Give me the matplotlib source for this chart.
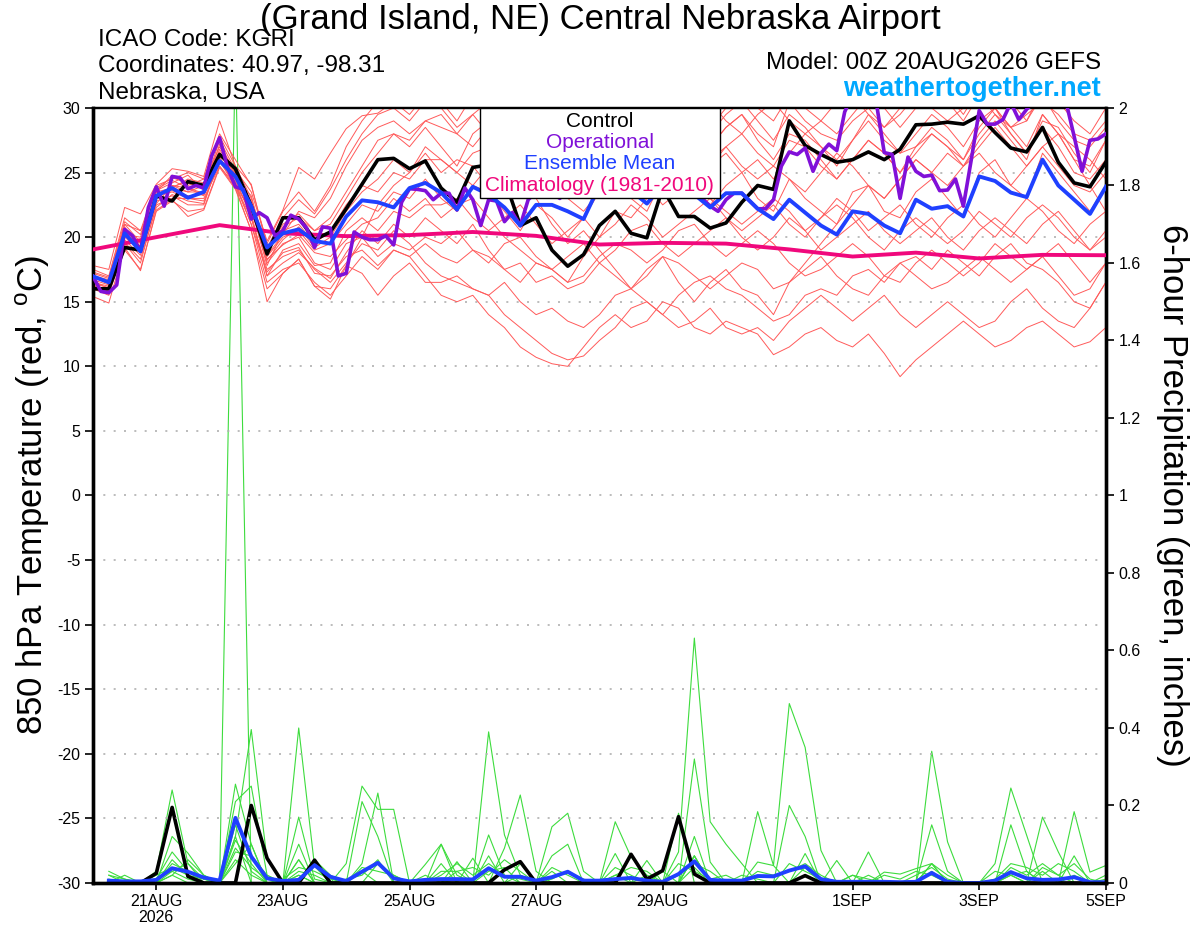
import pandas as pd
import matplotlib
matplotlib.use("Agg")
import matplotlib.pyplot as plt
from matplotlib.patches import Rectangle


# STEP 1: DATA
start = "2026-08-20 00:00"
times_6h = pd.date_range(start, periods=65, freq="6h")
times_3h = pd.date_range(start, periods=129, freq="3h")
times_day = pd.date_range(start, periods=17, freq="D")

tick_dates = pd.to_datetime(["2026-08-21", "2026-08-23", "2026-08-25", "2026-08-27",
                             "2026-08-29", "2026-09-01", "2026-09-03", "2026-09-05"])
tick_labels = ["21AUG\n2026", "23AUG", "25AUG", "27AUG", "29AUG", "1SEP", "3SEP", "5SEP"]

temp_ticks = [30, 25, 20, 15, 10, 5, 0, -5, -10, -15, -20, -25, -30]
precip_ticks = [0, 0.2, 0.4, 0.6, 0.8, 1, 1.2, 1.4, 1.6, 1.8, 2]
precip_tick_labels = ["0", "0.2", "0.4", "0.6", "0.8", "1", "1.2", "1.4", "1.6", "1.8", "2"]

# 850 hPa temperature, control run (6-hourly)
control_t = [16.0, 16.0, 19.2, 19.0, 23.2, 22.8, 24.3, 24.0, 26.4, 25.3, 22.4,
             18.7, 21.5, 21.5, 19.8, 20.4, 22.2, 24.1, 26.0, 26.1, 25.3, 25.9,
             23.8, 22.7, 25.4, 25.6, 24.5, 20.9, 21.5, 19.0, 17.75, 18.65, 20.9,
             22.0, 20.3, 19.95, 23.8, 21.6, 21.6, 20.7, 21.1, 22.7, 24.0,
             23.7, 29.0, 27.1, 26.4, 25.8, 26.0, 26.6, 26.0, 26.8, 28.7, 28.75,
             28.9, 28.75, 29.4, 28.1, 26.9, 26.6, 28.5, 25.8, 24.2, 23.9, 25.8]

# operational run (3-hourly)
oper_t = [16.97, 15.8, 15.7, 16.3, 20.6, 20.1, 18.9, 22.3, 23.9, 22.4, 24.7,
          24.6, 23.75, 24.0, 23.8, 26.3, 27.7, 25.4, 23.9, 23.7, 21.4, 21.9,
          21.5, 20.1, 20.5, 21.7, 21.4, 20.7, 19.2, 20.8, 20.7, 17.0, 17.2,
          20.4, 20.0, 19.8, 19.8, 20.1, 19.4, 22.7, 23.75, 23.7, 23.6,
          22.9, 23.4, 23.4, 22.1, 23.8, 22.9, 20.9, 22.9, 22.8, 21.2, 21.9,
          20.9, 22.9, 23.5, 23.3, 23.4, 23.0, 23.8, 24.0, 23.6, 24.2, 24.5,
          24.0, 23.8, 24.3, 24.0, 23.6, 23.9, 24.1, 23.5, 23.9, 23.4, 23.6,
          23.4, 23.0, 22.4, 22.0, 22.9, 23.4, 23.4, 22.8, 22.2,
          22.2, 22.9, 25.5, 26.6, 26.4, 26.9, 25.1, 26.5, 27.2, 26.7, 29.7,
          31.0, 31.5, 31.0, 30.4, 26.55, 26.4, 23.0, 26.2, 25.1, 24.7, 24.8,
          23.6, 23.65, 24.5, 22.4, 26.0, 29.8, 28.75, 28.75, 29.1, 30.4, 29.1,
          29.9, 30.5, 31.0, 31.0, 30.8, 30.4, 27.8, 25.1, 27.5, 27.6, 28.0]

# ensemble mean
mean_t = [16.97, 16.5, 20.3, 18.9, 23.2, 23.8, 23.05, 23.5, 25.9, 24.7, 22.4,
          19.2, 20.3, 20.6, 19.7, 19.5, 21.6, 22.85, 22.7, 22.3, 23.8, 24.2,
          23.45, 22.15, 23.9, 23.3, 22.3, 20.9, 22.5, 22.5, 22.0, 21.4, 24.0,
          24.5, 23.6, 22.6, 24.0, 23.8, 23.3, 22.3, 23.4, 23.4, 22.2,
          21.4, 22.9, 21.9, 20.9, 20.2, 22.0, 21.8, 20.9, 20.3, 22.9, 22.2,
          22.4, 21.6, 24.7, 24.35, 23.45, 23.1, 26.0, 24.0, 22.9, 21.8, 23.9]

# 1981-2010 climatology (daily, 00Z)
clim_t = [19.05, 20.0, 20.93, 20.3, 20.08, 20.16, 20.4, 20.1, 19.43,
          19.56, 19.5, 19.05, 18.5, 18.8, 18.35, 18.63, 18.6]

# ensemble members, temperature
mem01 = [16.5, 16.2, 20.5, 19.5, 23.5, 23.8, 24.5, 24.2, 27.0, 25.0, 22.8,
         19.0, 21.0, 21.8, 20.5, 21.5, 23.5, 25.5, 27.5, 28.0, 27.0, 28.5,
         27.0, 25.5, 28.0, 29.0, 27.5, 25.0, 26.0, 24.0, 23.0, 24.5, 26.0,
         27.0, 25.5, 25.0, 27.5, 28.0, 26.5, 27.0, 28.5, 29.5, 28.0,
         27.0, 30.5, 29.0, 28.0, 27.5, 29.0, 30.0, 28.5, 29.5, 31.0, 30.5,
         31.0, 29.5, 31.5, 30.0, 28.5, 29.0, 31.0, 29.0, 27.5, 27.0, 28.5]
mem02 = [16.0, 15.5, 19.5, 18.0, 22.5, 23.0, 23.0, 22.8, 25.8, 24.5, 21.5,
         17.5, 18.5, 19.0, 17.5, 16.5, 18.0, 19.5, 19.0, 20.5, 19.5, 18.0,
         17.0, 16.5, 16.0, 15.5, 14.0, 13.0, 12.0, 11.0, 10.5, 10.8, 12.0,
         13.0, 14.5, 15.0, 14.0, 15.5, 16.5, 17.0, 16.0, 15.5, 14.5,
         13.5, 14.0, 15.5, 16.0, 15.5, 17.0, 17.5, 16.5, 18.0, 18.5, 17.5,
         19.0, 18.0, 17.0, 18.5, 19.5, 18.0, 17.5, 16.5, 15.0, 14.5, 16.5]
mem03 = [17.0, 16.5, 20.0, 19.0, 23.0, 24.0, 23.5, 23.5, 26.0, 24.0, 21.0,
         16.5, 17.5, 18.0, 16.5, 15.5, 17.0, 18.5, 17.5, 19.0, 18.5, 17.0,
         15.5, 15.0, 15.5, 14.0, 13.0, 11.5, 10.7, 10.2, 10.0, 11.5, 13.0,
         14.0, 13.0, 13.5, 15.0, 14.5, 13.0, 12.5, 13.5, 13.0, 12.5,
         10.9, 11.5, 12.5, 13.0, 12.0, 11.5, 12.5, 11.0, 9.2, 10.5, 11.5,
         12.5, 13.5, 12.5, 11.5, 12.0, 13.0, 13.5, 12.5, 11.5, 11.9, 13.0]
mem04 = [16.8, 16.5, 21.0, 20.5, 24.0, 24.5, 25.0, 24.5, 28.0, 26.0, 24.0,
         19.5, 22.0, 23.5, 22.0, 24.0, 27.0, 29.0, 30.5, 31.0, 30.0, 31.5,
         30.5, 29.0, 31.0, 32.0, 30.5, 28.5, 29.0, 27.5, 26.5, 28.0, 29.5,
         30.0, 28.5, 27.5, 29.0, 30.5, 29.0, 28.0, 29.5, 30.5, 29.0,
         27.5, 29.5, 28.5, 27.0, 26.0, 27.5, 29.0, 27.5, 26.5, 28.0, 29.5,
         28.5, 27.0, 29.0, 30.0, 28.0, 26.5, 28.5, 27.0, 25.0, 24.5, 26.0]
mem05 = [17.2, 16.8, 20.8, 19.0, 23.2, 23.5, 23.0, 23.0, 25.5, 24.0, 22.0,
         18.5, 20.0, 20.5, 19.0, 19.5, 21.0, 22.5, 22.0, 23.5, 23.0, 24.5,
         23.0, 22.0, 24.0, 23.5, 22.0, 20.5, 22.5, 21.5, 20.0, 21.5, 23.5,
         24.5, 23.0, 22.0, 24.5, 25.0, 23.5, 22.5, 24.0, 25.0, 23.0,
         22.0, 24.5, 23.0, 22.0, 21.0, 23.5, 24.0, 22.0, 21.5, 23.5, 24.5,
         23.0, 21.5, 25.0, 26.0, 24.0, 23.0, 26.5, 25.0, 23.5, 22.0, 24.0]
mem06 = [16.3, 15.8, 19.0, 17.5, 22.0, 22.8, 22.0, 22.2, 25.5, 23.8, 20.5,
         15.0, 17.2, 18.3, 16.2, 15.2, 17.8, 20.0, 22.5, 24.0, 25.0, 26.5,
         25.0, 26.0, 25.5, 24.0, 23.0, 24.5, 25.5, 24.0, 23.0, 22.0, 23.5,
         24.5, 25.5, 24.0, 22.5, 23.5, 24.5, 23.0, 22.0, 21.0, 22.0,
         23.0, 22.0, 20.5, 21.5, 22.5, 21.5, 20.0, 19.0, 20.5, 21.5, 20.5,
         19.5, 20.5, 22.0, 21.0, 20.0, 21.5, 22.5, 21.5, 20.0, 19.0, 20.5]
mem07 = [16.9, 16.4, 20.2, 20.0, 23.8, 24.6, 24.2, 23.8, 27.5, 25.2, 23.5,
         19.7, 22.1, 25.4, 24.5, 26.5, 28.4, 29.4, 29.6, 30.5, 29.5, 31.0,
         31.5, 30.0, 30.5, 31.5, 29.5, 27.0, 28.5, 26.5, 25.0, 26.5, 28.0,
         29.0, 27.0, 26.0, 28.0, 29.5, 28.0, 27.0, 28.5, 29.5, 27.5,
         26.0, 28.0, 27.5, 26.0, 24.5, 26.0, 27.5, 26.5, 25.0, 26.5, 28.0,
         27.0, 25.5, 27.5, 29.0, 27.5, 26.0, 29.5, 28.0, 26.0, 25.5, 27.5]
mem08 = [17.5, 17.0, 21.5, 20.5, 23.0, 23.8, 23.5, 24.0, 26.5, 24.5, 22.5,
         18.0, 19.5, 20.0, 18.0, 17.5, 19.5, 20.0, 18.5, 19.5, 19.0, 20.0,
         19.5, 20.5, 19.0, 18.0, 19.5, 20.0, 18.5, 17.5, 18.5, 19.5, 18.0,
         19.0, 20.5, 21.0, 19.5, 18.5, 19.5, 20.5, 21.5, 20.0, 19.0,
         20.0, 21.5, 20.5, 19.0, 20.0, 21.0, 22.0, 20.5, 19.5, 20.5, 21.5,
         20.0, 19.0, 20.5, 21.5, 20.5, 19.5, 21.0, 22.0, 20.5, 19.0, 20.0]
mem09 = [16.0, 15.6, 20.6, 18.8, 23.5, 24.8, 24.0, 24.5, 27.8, 25.5, 23.0,
         18.8, 20.8, 21.5, 20.5, 21.0, 23.0, 25.0, 26.5, 28.0, 27.5, 29.0,
         29.5, 28.0, 27.0, 28.5, 30.0, 29.0, 27.5, 26.5, 27.5, 28.5, 27.0,
         28.0, 29.5, 28.5, 27.0, 28.0, 29.5, 30.5, 29.0, 28.0, 29.5,
         30.5, 29.0, 28.0, 29.0, 30.5, 31.0, 29.5, 28.5, 30.0, 31.5, 30.0,
         29.0, 30.0, 31.0, 29.5, 28.5, 29.5, 30.5, 29.5, 28.0, 27.5, 29.0]
mem10 = [16.6, 16.0, 20.0, 19.8, 22.8, 23.2, 22.5, 22.5, 26.2, 24.3, 21.8,
         17.0, 19.0, 19.5, 17.8, 18.0, 20.5, 21.5, 20.5, 22.0, 21.5, 22.5,
         22.5, 23.0, 21.5, 20.5, 21.5, 22.5, 21.0, 19.5, 20.5, 21.5, 20.0,
         21.0, 22.5, 21.5, 20.0, 21.0, 22.0, 23.0, 21.5, 20.5, 21.5,
         22.5, 21.0, 20.0, 21.5, 23.0, 22.0, 20.5, 21.5, 22.5, 21.0, 20.0,
         21.5, 22.5, 21.0, 20.0, 21.5, 23.0, 22.0, 20.5, 19.5, 21.0, 22.0]
mem11 = [17.8, 17.5, 22.3, 21.8, 24.1, 25.3, 25.1, 24.7, 29.0, 25.5, 24.1,
         19.2, 21.5, 22.9, 21.8, 23.7, 26.0, 28.0, 29.5, 30.0, 29.0, 30.5,
         30.0, 28.5, 29.5, 30.5, 29.0, 27.0, 28.0, 27.0, 26.0, 27.5, 29.5,
         30.5, 29.5, 28.0, 29.5, 31.0, 30.0, 28.5, 30.0, 31.5, 30.0,
         29.0, 31.0, 30.0, 29.0, 28.0, 29.5, 31.0, 30.0, 28.5, 30.0, 31.5,
         30.5, 29.0, 31.0, 32.0, 30.5, 29.0, 31.5, 30.5, 29.0, 28.0, 30.0]
mem12 = [15.4, 14.9, 19.2, 17.4, 22.1, 22.9, 21.6, 22.1, 25.4, 23.7, 20.5,
         16.0, 17.2, 18.3, 16.2, 16.0, 17.8, 17.2, 15.5, 17.0, 18.0, 16.5,
         16.5, 17.0, 16.0, 15.5, 16.5, 15.0, 14.0, 14.5, 13.5, 13.0, 14.0,
         15.5, 16.0, 15.0, 14.0, 13.0, 13.5, 14.5, 13.0, 12.5, 13.0,
         12.0, 13.5, 14.5, 15.5, 14.5, 13.5, 14.5, 15.5, 14.0, 13.0, 14.0,
         15.0, 14.0, 13.0, 13.5, 15.0, 16.0, 14.5, 13.5, 13.0, 14.5, 16.5]
mem13 = [16.4, 16.1, 20.4, 19.3, 23.6, 24.2, 24.8, 23.6, 26.8, 24.8, 22.2,
         17.8, 20.5, 21.0, 19.5, 20.5, 22.5, 24.0, 23.5, 25.0, 24.5, 26.0,
         26.0, 25.0, 24.0, 25.5, 26.5, 25.0, 23.5, 24.5, 25.5, 24.0, 23.0,
         24.0, 25.5, 26.5, 25.0, 24.0, 25.0, 26.0, 27.0, 25.5, 24.5,
         25.5, 24.5, 23.5, 25.0, 26.5, 25.5, 24.0, 23.0, 24.5, 26.0, 25.0,
         24.0, 25.5, 26.5, 25.0, 24.0, 25.5, 27.0, 25.5, 24.0, 23.5, 25.0]
mem14 = [17.0, 16.7, 21.0, 19.6, 23.3, 23.6, 23.2, 23.3, 26.0, 24.2, 21.0,
         17.3, 18.8, 19.2, 17.2, 17.0, 18.5, 19.0, 17.8, 19.0, 18.5, 19.5,
         18.5, 18.0, 19.0, 18.5, 17.5, 18.0, 16.5, 17.0, 16.0, 16.5, 18.0,
         17.0, 16.0, 17.5, 18.5, 18.0, 17.0, 16.0, 17.0, 18.0, 17.5,
         16.0, 16.5, 17.5, 18.5, 17.0, 16.0, 15.5, 17.0, 18.0, 17.0, 16.0,
         16.5, 17.5, 18.5, 17.5, 16.5, 17.5, 18.5, 17.0, 15.5, 16.0, 18.0]
mem15 = [16.2, 16.0, 19.8, 18.6, 22.6, 24.0, 23.8, 23.4, 27.2, 25.0, 22.6,
         18.2, 19.8, 20.8, 19.2, 20.0, 22.0, 23.5, 24.5, 26.0, 25.0, 27.0,
         26.0, 25.0, 26.5, 27.0, 25.5, 24.0, 25.0, 24.0, 23.0, 24.5, 26.5,
         27.5, 26.0, 25.0, 26.5, 28.0, 26.5, 25.5, 27.0, 28.0, 26.5,
         25.5, 27.5, 27.0, 25.5, 24.5, 26.0, 27.5, 26.5, 25.0, 27.0, 28.0,
         27.0, 26.0, 28.0, 29.5, 28.0, 26.5, 29.0, 28.5, 26.5, 25.0, 27.5]
mem16 = [16.7, 16.3, 20.3, 19.2, 23.1, 23.9, 24.3, 24.0, 26.6, 24.6, 23.2,
         18.6, 20.2, 22.0, 21.5, 23.0, 25.5, 27.5, 28.5, 29.0, 28.0, 29.0,
         28.5, 28.0, 29.5, 28.0, 26.0, 24.5, 23.0, 21.0, 19.5, 20.5, 19.0,
         17.5, 16.0, 17.0, 18.5, 16.5, 15.0, 16.5, 17.5, 16.0, 15.5,
         14.0, 16.5, 18.0, 19.5, 21.0, 22.5, 24.0, 23.0, 24.5, 26.0, 25.0,
         26.5, 25.5, 27.0, 28.5, 27.0, 25.5, 27.0, 28.0, 27.0, 26.0, 24.5]
mem17 = [17.3, 16.9, 21.2, 20.2, 23.7, 24.4, 23.8, 23.2, 25.9, 23.9, 21.5,
         17.0, 18.0, 18.8, 17.6, 16.8, 18.8, 20.5, 19.5, 21.0, 20.0, 21.5,
         20.5, 19.5, 21.0, 19.0, 17.5, 16.5, 18.0, 17.5, 16.5, 18.5, 20.0,
         22.0, 21.5, 23.0, 25.0, 24.0, 23.5, 25.5, 26.5, 25.0, 26.0,
         24.5, 26.5, 28.0, 27.0, 25.5, 27.5, 29.5, 28.0, 26.5, 27.0, 28.5,
         27.5, 26.0, 28.5, 30.0, 28.5, 27.0, 29.5, 28.0, 26.0, 24.0, 22.0]
mem18 = [16.1, 15.7, 19.6, 18.3, 22.3, 23.3, 22.8, 22.6, 26.4, 24.9, 22.4,
         18.3, 19.4, 20.2, 18.8, 18.5, 19.8, 21.0, 21.5, 23.0, 22.0, 23.0,
         21.5, 22.5, 23.0, 21.5, 20.0, 19.0, 18.0, 17.5, 16.5, 17.0, 18.5,
         19.5, 19.0, 18.0, 19.0, 20.5, 21.0, 19.5, 18.5, 19.5, 20.5,
         19.5, 18.0, 17.0, 17.5, 18.5, 19.5, 18.5, 17.0, 16.5, 18.0, 19.0,
         18.0, 17.0, 18.0, 19.5, 18.5, 17.5, 18.5, 19.5, 18.0, 16.5, 18.0]
temp_members = [mem01, mem02, mem03, mem04, mem05, mem06, mem07, mem08, mem09,
                mem10, mem11, mem12, mem13, mem14, mem15, mem16, mem17, mem18]

# 6-hour precipitation (inches), valid 06Z 20AUG .. 00Z 5SEP
control_p = [0, 0, 0, 0.025, 0.195, 0.017, 0, 0,
             0, 0.2, 0.064, 0, 0, 0.059, 0, 0,
             0, 0, 0, 0, 0, 0, 0, 0,
             0, 0.034, 0.055, 0, 0, 0, 0, 0,
             0, 0.074, 0.01, 0.032, 0.171, 0.023, 0, 0,
             0, 0, 0, 0, 0.019, 0, 0, 0,
             0, 0, 0, 0, 0, 0, 0, 0,
             0, 0, 0, 0, 0, 0, 0, 0]
mean_p = [0.006, 0.004, 0.004, 0.008, 0.038, 0.029, 0.014, 0.006,
          0.168, 0.068, 0.012, 0.005, 0.008, 0.046, 0.016, 0.005,
          0.029, 0.052, 0.012, 0.004, 0.008, 0.01, 0.01, 0.009,
          0.038, 0.016, 0.016, 0.006, 0.015, 0.029, 0.006, 0.006,
          0.01, 0.013, 0.006, 0.003, 0.023, 0.056, 0.008, 0.006,
          0.006, 0.018, 0.017, 0.032, 0.043, 0.01, 0.003, 0.003,
          0.003, 0.003, 0.002, 0.003, 0.026, 0.003, 0, 0,
          0.006, 0.028, 0.012, 0.008, 0.009, 0.015, 0.002, 0.002]

pmem01 = [0, 0, 0, 0.01, 0.03, 0.01, 0, 0,
          2.15, 0, 0, 0, 0.02, 0, 0, 0,
          0, 0.05, 0.02, 0, 0, 0, 0.01, 0,
          0, 0, 0, 0, 0.03, 0, 0, 0,
          0, 0, 0.02, 0, 0.08, 0.632, 0.158, 0.1,
          0.05, 0, 0, 0, 0, 0, 0, 0,
          0, 0, 0, 0, 0, 0, 0, 0,
          0, 0, 0, 0, 0, 0.02, 0, 0]
pmem02 = [0.02, 0, 0, 0.03, 0.24, 0.05, 0.01, 0,
          0.12, 0.396, 0.06, 0, 0, 0.06, 0.02, 0,
          0, 0, 0, 0, 0.048, 0.1, 0.02, 0,
          0.39, 0.124, 0.02, 0, 0, 0, 0, 0,
          0, 0, 0, 0, 0, 0.07, 0, 0,
          0, 0.184, 0.045, 0.463, 0.35, 0.084, 0, 0,
          0, 0, 0, 0, 0.05, 0.02, 0, 0,
          0, 0.02, 0.03, 0, 0, 0, 0, 0]
pmem03 = [0, 0, 0, 0, 0.12, 0.077, 0.02, 0,
          0.255, 0.1, 0, 0, 0.4, 0.043, 0, 0,
          0, 0, 0, 0, 0, 0, 0.055, 0,
          0.124, 0.02, 0, 0, 0, 0, 0, 0,
          0, 0, 0, 0, 0, 0.32, 0.054, 0,
          0, 0, 0, 0, 0, 0, 0, 0,
          0, 0, 0, 0, 0.34, 0.106, 0, 0,
          0, 0.02, 0, 0, 0, 0, 0, 0]
pmem04 = [0, 0, 0, 0.01, 0.08, 0.03, 0, 0,
          0.21, 0.25, 0.02, 0, 0.17, 0.01, 0, 0.05,
          0.25, 0.19, 0.19, 0, 0, 0, 0, 0,
          0, 0, 0.05, 0, 0, 0, 0, 0,
          0.158, 0.067, 0.02, 0, 0, 0.12, 0, 0,
          0, 0, 0, 0, 0, 0, 0, 0,
          0, 0, 0, 0, 0.15, 0.03, 0, 0,
          0.05, 0.245, 0.123, 0, 0, 0, 0, 0]
pmem05 = [0, 0, 0, 0, 0.06, 0.02, 0, 0,
          0.17, 0.07, 0, 0, 0.1, 0, 0, 0,
          0.21, 0.12, 0, 0, 0, 0, 0, 0.064,
          0, 0.09, 0.227, 0.03, 0, 0, 0, 0,
          0, 0, 0, 0, 0, 0.07, 0, 0,
          0, 0, 0, 0.2, 0.12, 0, 0, 0,
          0, 0, 0, 0, 0, 0, 0, 0,
          0, 0, 0, 0.17, 0.08, 0, 0, 0]
pmem06 = [0.01, 0, 0, 0, 0, 0, 0, 0,
          0.12, 0, 0, 0, 0.06, 0, 0, 0,
          0.05, 0.232, 0, 0, 0, 0.1, 0, 0,
          0.07, 0, 0, 0, 0.145, 0.18, 0.03, 0,
          0.076, 0, 0, 0, 0.18, 0, 0, 0,
          0, 0.054, 0.045, 0, 0.076, 0, 0.058, 0,
          0.08, 0, 0, 0, 0, 0, 0, 0,
          0, 0, 0, 0, 0, 0.184, 0.028, 0.045]
pmem07 = [0, 0, 0, 0, 0, 0, 0, 0,
          0.05, 0.1, 0, 0, 0, 0, 0, 0,
          0, 0, 0, 0, 0, 0, 0, 0,
          0, 0, 0, 0, 0.07, 0.1, 0, 0,
          0, 0, 0.058, 0, 0, 0.07, 0, 0,
          0, 0, 0, 0, 0, 0, 0, 0,
          0, 0.028, 0.023, 0.037, 0.05, 0, 0, 0,
          0, 0.15, 0.03, 0, 0, 0.07, 0, 0]
pmem08 = [0, 0, 0, 0, 0.03, 0.05, 0, 0,
          0.08, 0.07, 0.02, 0, 0.06, 0, 0, 0,
          0, 0, 0, 0, 0, 0, 0, 0,
          0, 0, 0.02, 0, 0, 0, 0, 0,
          0, 0, 0, 0.03, 0, 0, 0, 0,
          0, 0, 0, 0, 0, 0, 0, 0,
          0, 0, 0, 0, 0.05, 0, 0, 0,
          0, 0, 0, 0, 0, 0, 0, 0]
pmem09 = [0.02, 0.01, 0, 0, 0.05, 0.03, 0.01, 0,
          0.15, 0.03, 0, 0, 0.02, 0, 0, 0,
          0.03, 0, 0, 0, 0, 0.03, 0.03, 0,
          0.03, 0.04, 0, 0, 0, 0, 0, 0,
          0.02, 0, 0, 0, 0, 0.04, 0, 0,
          0, 0, 0, 0, 0.04, 0, 0, 0.02,
          0, 0, 0, 0, 0, 0, 0, 0,
          0, 0.04, 0.02, 0.05, 0.02, 0, 0, 0.02]
pmem10 = [0, 0, 0, 0, 0.02, 0, 0, 0,
          0.06, 0.02, 0, 0, 0, 0, 0, 0,
          0, 0, 0, 0, 0, 0.05, 0, 0,
          0, 0, 0, 0, 0, 0, 0, 0,
          0, 0, 0, 0, 0, 0, 0, 0,
          0, 0, 0, 0, 0, 0, 0, 0,
          0.02, 0, 0, 0, 0.03, 0, 0, 0,
          0, 0, 0, 0.03, 0, 0, 0, 0]
pmem11 = [0.03, 0.01, 0, 0, 0.02, 0.06, 0.02, 0,
          0.09, 0.04, 0.01, 0, 0.03, 0.02, 0, 0.01,
          0.02, 0.06, 0, 0, 0, 0.02, 0.05, 0.02,
          0.05, 0.02, 0.01, 0, 0.04, 0.02, 0, 0,
          0.04, 0.02, 0, 0, 0.02, 0.05, 0.03, 0,
          0.02, 0.01, 0, 0.05, 0.03, 0.01, 0, 0.02,
          0.01, 0, 0, 0.02, 0.04, 0.01, 0, 0,
          0.01, 0.05, 0.04, 0.02, 0.05, 0.03, 0, 0.01]
pmem12 = [0, 0.02, 0, 0.02, 0.04, 0.02, 0.01, 0,
          0.11, 0.05, 0, 0.01, 0.04, 0.03, 0.01, 0,
          0.04, 0.03, 0.02, 0, 0.02, 0, 0.03, 0.04,
          0.02, 0.06, 0.03, 0, 0.01, 0.03, 0.01, 0,
          0.02, 0.04, 0.03, 0, 0.05, 0.03, 0.01, 0.02,
          0, 0.03, 0.02, 0.03, 0.05, 0.02, 0, 0,
          0, 0.02, 0.01, 0.03, 0.02, 0, 0, 0,
          0.03, 0.02, 0, 0.04, 0.02, 0.05, 0.01, 0]
precip_members = [pmem01, pmem02, pmem03, pmem04, pmem05, pmem06,
                  pmem07, pmem08, pmem09, pmem10, pmem11, pmem12]


# STEP 2: FONTS
plt.rcParams["font.family"] = ["Liberation Sans", "DejaVu Sans"]


# STEP 3: FIGURE AND AXES
fig = plt.figure(figsize=(12, 9.27), dpi=100)
ax = fig.add_axes([0.0775, 0.0475, 0.844, 0.836])
ax2 = ax.twinx()
ax.set_zorder(ax2.get_zorder() + 1)
ax.patch.set_visible(False)

red = "#ff5a5a"
green = "#3ddc3d"
black = "black"
purple = "#8010d8"
blue = "#1f40ff"
pink = "#f0087c"

# precipitation (right axis, drawn underneath)
p_times = times_6h[1:]
for pm in precip_members:
    ax2.plot(p_times, pm, color=green, lw=0.8)
ax2.plot(p_times, control_p, color=black, lw=2.6)
ax2.plot(p_times, mean_p, color=blue, lw=2.8)

# temperature (left axis)
for tm in temp_members:
    ax.plot(times_6h, tm, color=red, lw=0.7)
ax.plot(times_day, clim_t, color=pink, lw=2.8, zorder=4)
ax.plot(times_6h, control_t, color=black, lw=2.6, zorder=5)
ax.plot(times_3h, oper_t, color=purple, lw=2.6, zorder=6)
ax.plot(times_6h, mean_t, color=blue, lw=2.8, zorder=7)

ax.set_xlim(times_6h[0], times_6h[-1])
ax.set_ylim(-30, 30)
ax2.set_ylim(0, 2)

ax.set_xticks(tick_dates)
ax.set_xticklabels(tick_labels, fontsize=11.5, linespacing=1.1)
ax.set_yticks(temp_ticks)
ax.set_yticklabels([str(t) for t in temp_ticks], fontsize=11.5)
ax2.set_yticks(precip_ticks)
ax2.set_yticklabels(precip_tick_labels, fontsize=11.5)
ax.tick_params(axis="x", length=5, width=1.2, pad=3)
ax.tick_params(axis="y", length=6, width=1.2, pad=3)
ax2.tick_params(axis="y", length=6, width=1.2, pad=3)

ax.yaxis.grid(True, linestyle=(0, (1.2, 5)), color="#b0b0b0", lw=1.2)
ax.set_axisbelow(True)

for a in (ax, ax2):
    for side in ("left", "right", "bottom"):
        a.spines[side].set_linewidth(2.4)
    a.spines["top"].set_linewidth(1.6)

# legend box
ax.add_patch(Rectangle((0.382, 0.8839), 0.237, 0.1161, transform=ax.transAxes,
                       facecolor="white", edgecolor="black", lw=1.0, zorder=10))
legend_items = [("Control", black, 0.983), ("Operational", purple, 0.956),
                ("Ensemble Mean", blue, 0.929), ("Climatology (1981-2010)", pink, 0.9006)]
for label, col, ypos in legend_items:
    ax.text(0.5005, ypos, label, color=col, fontsize=15, ha="center", va="center",
            transform=ax.transAxes, zorder=11)


# STEP 4: TITLES AND LABELS
fig.text(0.5, 1 - 20 / 927, "(Grand Island, NE) Central Nebraska Airport",
         ha="center", va="center", fontsize=25)
fig.text(98 / 1200, 1 - 40 / 927, "ICAO Code: KGRI", ha="left", va="center", fontsize=17.5)
fig.text(98 / 1200, 1 - 66 / 927, "Coordinates: 40.97, -98.31", ha="left", va="center", fontsize=17.5)
fig.text(98 / 1200, 1 - 93 / 927, "Nebraska, USA", ha="left", va="center", fontsize=17.5)
fig.text(1101 / 1200, 1 - 63 / 927, "Model: 00Z 20AUG2026 GEFS", ha="right", va="center", fontsize=17.5)
fig.text(1101 / 1200, 1 - 89 / 927, "weathertogether.net", ha="right", va="center",
         fontsize=19.5, fontweight="bold", color="#00a8ff")

fig.text(33 / 1200, 1 - 495 / 927, "850 hPa Temperature (red, $^\\mathregular{o}$C)",
         rotation=90, ha="center", va="center", fontsize=25)
fig.text(1172 / 1200, 1 - 495 / 927, "6-hour Precipitation (green, inches)",
         rotation=270, ha="center", va="center", fontsize=25)

fig.savefig("out.png", dpi=100)
